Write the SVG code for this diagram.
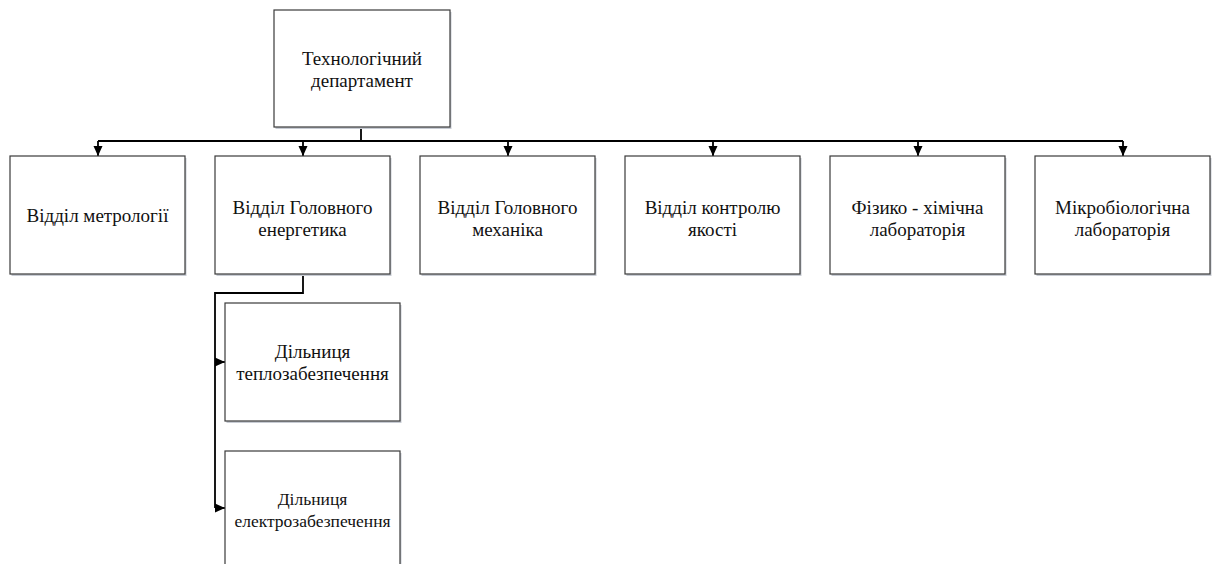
<svg xmlns="http://www.w3.org/2000/svg" width="1213" height="564" viewBox="0 0 1213 564">
<style>
.box{fill:#fff;stroke:#3a3a3a;stroke-width:1.2}
.sh{fill:#c8ccd4}
.t{font-family:"Liberation Serif","Times New Roman","DejaVu Serif",serif;font-size:19px;fill:#111;text-anchor:middle}
.ts{font-size:17.5px}
.c{fill:none;stroke:#000;stroke-width:1.8}
</style>
<defs>
<marker id="ad" viewBox="0 0 10 10" refX="10" refY="5" markerWidth="10" markerHeight="10" markerUnits="userSpaceOnUse" orient="auto">
<path d="M0,0.5 L10,5 L0,9.5 Z" fill="#000"/>
</marker>
</defs>
<g id="connectors">
<path class="c" d="M361,127 V141"/>
<path class="c" d="M98,141 H1123"/>
<path class="c" d="M98,141 V156" marker-end="url(#ad)"/>
<path class="c" d="M303,141 V156" marker-end="url(#ad)"/>
<path class="c" d="M508,141 V156" marker-end="url(#ad)"/>
<path class="c" d="M713,141 V156" marker-end="url(#ad)"/>
<path class="c" d="M918,141 V156" marker-end="url(#ad)"/>
<path class="c" d="M1123,141 V156" marker-end="url(#ad)"/>
<path class="c" d="M303,274 V293 H215 V508"/>
<path class="c" d="M215,362 H225" marker-end="url(#ad)"/>
<path class="c" d="M215,508 H225" marker-end="url(#ad)"/>
</g>
<g id="n0">
<rect class="sh" x="275.5" y="12" width="176" height="117"/>
<rect class="box" x="274" y="10" width="176" height="117"/>
<text class="t" x="362" y="65">Технологічний</text>
<text class="t" x="362" y="87">департамент</text>
</g>
<g id="n1">
<rect class="sh" x="11.5" y="158" width="175" height="118"/>
<rect class="box" x="10" y="156" width="175" height="118"/>
<text class="t" x="97.5" y="222">Відділ метрології</text>
</g>
<g id="n2">
<rect class="sh" x="216.5" y="158" width="175" height="118"/>
<rect class="box" x="215" y="156" width="175" height="118"/>
<text class="t" x="302.5" y="214">Відділ Головного</text>
<text class="t" x="302.5" y="236">енергетика</text>
</g>
<g id="n3">
<rect class="sh" x="421.5" y="158" width="175" height="118"/>
<rect class="box" x="420" y="156" width="175" height="118"/>
<text class="t" x="507.5" y="214">Відділ Головного</text>
<text class="t" x="507.5" y="236">механіка</text>
</g>
<g id="n4">
<rect class="sh" x="626.5" y="158" width="175" height="118"/>
<rect class="box" x="625" y="156" width="175" height="118"/>
<text class="t" x="712.5" y="214">Відділ контролю</text>
<text class="t" x="712.5" y="236">якості</text>
</g>
<g id="n5">
<rect class="sh" x="831.5" y="158" width="175" height="118"/>
<rect class="box" x="830" y="156" width="175" height="118"/>
<text class="t" x="917.5" y="214">Фізико - хімічна</text>
<text class="t" x="917.5" y="236">лабораторія</text>
</g>
<g id="n6">
<rect class="sh" x="1036.5" y="158" width="175" height="118"/>
<rect class="box" x="1035" y="156" width="175" height="118"/>
<text class="t" x="1122.5" y="214">Мікробіологічна</text>
<text class="t" x="1122.5" y="236">лабораторія</text>
</g>
<g id="n7">
<rect class="sh" x="226.5" y="305" width="175" height="118"/>
<rect class="box" x="225" y="303" width="175" height="118"/>
<text class="t" x="312.5" y="358">Дільниця</text>
<text class="t" x="312.5" y="380">теплозабезпечення</text>
</g>
<g id="n8">
<rect class="sh" x="226.5" y="453" width="175" height="118"/>
<rect class="box" x="225" y="451" width="175" height="118"/>
<text class="t ts" x="312.5" y="505">Дільниця</text>
<text class="t ts" x="312.5" y="527">електрозабезпечення</text>
</g>
</svg>
